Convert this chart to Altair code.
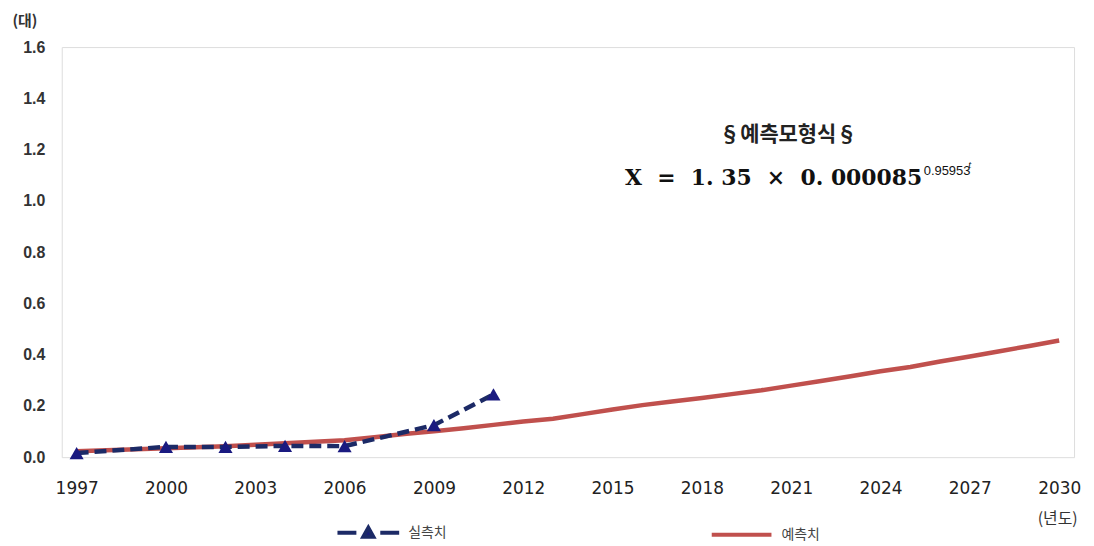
import altair as alt
import pandas as pd

# ---- data ----
obs_years = [1997, 2000, 2002, 2004, 2006, 2009, 2011]
obs_values = [0.016, 0.040, 0.040, 0.044, 0.043, 0.125, 0.245]

pred_years = list(range(1997, 2031))
pred_values = [0.023, 0.027, 0.031, 0.035, 0.039, 0.043, 0.048, 0.054, 0.060, 0.066,
               0.078, 0.090, 0.101, 0.113, 0.126, 0.139, 0.150, 0.168, 0.186, 0.203,
               0.217, 0.231, 0.246, 0.261, 0.279, 0.297, 0.316, 0.335, 0.352, 0.373,
               0.393, 0.413, 0.434, 0.455]

series_names = ["실측치", "예측치"]
x_ticks = [1997, 2000, 2003, 2006, 2009, 2012, 2015, 2018, 2021, 2024, 2027, 2030]
y_ticks = [0.0, 0.2, 0.4, 0.6, 0.8, 1.0, 1.2, 1.4, 1.6]

NAVY = "#1c2a66"
TRI = "#1a1a80"
RED = "#c0504d"

obs = pd.DataFrame({"year": obs_years, "value": obs_values, "series": "실측치"})
pred = pd.DataFrame({"year": pred_years, "value": pred_values, "series": "예측치"})
legend_df = pd.DataFrame({"series": series_names, "year": [2000, 2000], "value": [-1.0, -1.0]})

xs = alt.Scale(domain=[1996.5, 2030.5], nice=False, zero=False)
ys = alt.Scale(domain=[0, 1.6], nice=False)

x_axis = alt.Axis(values=x_ticks, format="d", grid=False, ticks=False, domain=False,
                  labelFontSize=17, labelFont="DejaVu Sans", labelColor="#222222",
                  labelPadding=24, title="(년도)", titleAngle=0, titleAlign="left",
                  titleX=980, titleY=62, titleBaseline="middle", titleFontSize=16,
                  titleFontWeight="normal", titleFont="Noto Sans CJK KR", titleColor="#333333")
y_axis = alt.Axis(values=y_ticks, format=".1f", grid=False, ticks=False, domain=False,
                  labelFontSize=16, labelFont="Liberation Sans", labelFontWeight="bold",
                  labelColor="#333333", labelPadding=17, title="(대)", titleAngle=0,
                  titleAlign="left", titleX=-50, titleY=-27, titleBaseline="middle",
                  titleFontSize=15, titleFontWeight="bold", titleFont="Noto Sans CJK KR",
                  titleColor="#333333")

base_x = alt.X("year:Q", scale=xs, axis=x_axis)
base_y = alt.Y("value:Q", scale=ys, axis=y_axis)

pred_line = alt.Chart(pred).mark_line(color=RED, strokeWidth=4.5).encode(
    x=base_x, y=base_y)

obs_line = alt.Chart(obs).mark_line(color=NAVY, strokeWidth=4.5, strokeDash=[12, 6]).encode(
    x="year:Q", y="value:Q")

obs_pts = alt.Chart(obs).mark_point(shape="triangle-up", filled=True, color=TRI,
                                    size=200, opacity=1).encode(x="year:Q", y="value:Q")

dash_tri = "M-3.1,0H-1.2M1.2,0H3.1M-0.5,0.4L0,-0.5L0.5,0.4Z"
solid = "M-3,0H3"

leg = alt.Legend(title=None, orient="none", legendX=296, legendY=476, direction="horizontal",
                 symbolSize=400, symbolStrokeWidth=4, labelOffset=28, columnPadding=258,
                 labelFont="Noto Sans CJK KR", labelFontSize=14, labelColor="#444444",
                 symbolOpacity=1)

legend_layer = alt.Chart(legend_df).mark_point(filled=True, clip=True, strokeWidth=4, size=400).encode(
    x="year:Q", y="value:Q",
    fill=alt.Fill("series:N", scale=alt.Scale(domain=series_names, range=[TRI, "transparent"]),
                  legend=leg),
    stroke=alt.Stroke("series:N", scale=alt.Scale(domain=series_names, range=[NAVY, RED]),
                      legend=leg),
    shape=alt.Shape("series:N", scale=alt.Scale(domain=series_names, range=[dash_tri, solid]),
                    legend=leg),
)

NB = "\u00a0"
formula = "X" + NB * 2 + "=" + NB * 2 + "1." + NB + "35" + NB * 2 + "×" + NB * 2 + "0." + NB + "000085"

# annotation
ann_head = pd.DataFrame({"year": [2020.9], "value": [1.258], "t": ["§예측모형식§"]})
ann_main = pd.DataFrame({"year": [2025.4], "value": [1.09], "t": [formula]})
ann_sup = pd.DataFrame({"year": [2025.45], "value": [1.118], "t": ["0.95953"]})
ann_t = pd.DataFrame({"year": [2026.95], "value": [1.14], "t": ["t"]})

head = alt.Chart(ann_head).mark_text(font="Noto Sans CJK KR", fontSize=21, fontWeight="bold",
                                     color="#222222", align="center", baseline="middle").encode(
    x="year:Q", y="value:Q", text="t:N")
main = alt.Chart(ann_main).mark_text(font="DejaVu Serif", fontSize=22, fontWeight="bold",
                                     color="#111111", align="right", baseline="middle").encode(
    x="year:Q", y="value:Q", text="t:N")
sup = alt.Chart(ann_sup).mark_text(font="Liberation Sans", fontSize=13,
                                   color="#111111", align="left", baseline="middle").encode(
    x="year:Q", y="value:Q", text="t:N")
tt = alt.Chart(ann_t).mark_text(font="Liberation Serif", fontSize=11, fontStyle="italic",
                                color="#111111", align="left", baseline="middle").encode(
    x="year:Q", y="value:Q", text="t:N")

chart = alt.layer(pred_line, obs_line, obs_pts, legend_layer, head, main, sup, tt).properties(
    width=1017, height=412,
    padding={"left": 4, "top": 4, "right": 5, "bottom": 0},
).configure_view(
    stroke="#a0a0a0", strokeWidth=1.5
).configure(background="white")

chart.save("out.html", embed_options={"renderer": "svg", "actions": False})
